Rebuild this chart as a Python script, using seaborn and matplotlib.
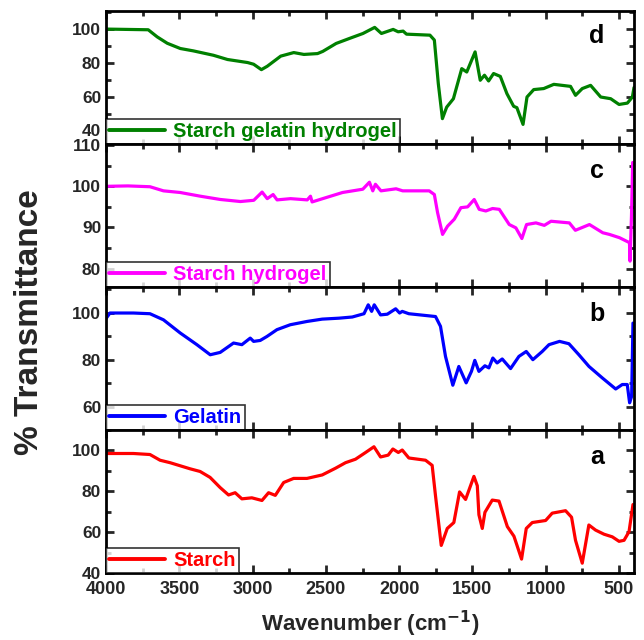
import numpy as np
import pandas as pd
import matplotlib
matplotlib.use("Agg")
import matplotlib.pyplot as plt
import seaborn as sns
from matplotlib.ticker import MultipleLocator

sns.set_style("ticks")
plt.rcParams['font.family'] = ['Liberation Sans', 'DejaVu Sans']
plt.rcParams['font.weight'] = 'bold'

# ---------------- data ----------------
d_wn = [4000, 3712, 3651, 3582, 3493, 3404, 3267, 3171, 3034, 2993, 2940, 2900, 2808, 2719, 2650,
        2557, 2521, 2430, 2338, 2247, 2167, 2121, 2041, 2007, 1973, 1950, 1790, 1760, 1733, 1705,
        1676, 1630, 1608, 1573, 1539, 1482, 1447, 1418, 1390, 1356, 1310, 1265, 1219, 1197, 1155,
        1128, 1082, 1014, 945, 831, 797, 751, 694, 625, 557, 500, 443, 409, 398]
d_T = [100, 99.6, 95.4, 91.6, 88.5, 87.1, 84.5, 82.0, 80.2, 79.2, 76.0, 78.0, 84.0, 86.1, 85.0,
       85.5, 86.8, 91.5, 94.5, 97.4, 101.0, 97.4, 99.8, 98.4, 98.8, 97.0, 96.4, 93.5, 67.7, 47.0,
       53.8, 58.8, 65.7, 76.6, 74.6, 86.5, 69.7, 72.7, 69.3, 73.7, 72.0, 61.8, 54.3, 53.5, 43.6,
       59.8, 64.2, 64.8, 67.3, 66.1, 60.8, 64.8, 66.7, 59.8, 58.8, 55.4, 56.2, 59.8, 65.4]

c_wn = [4000, 3850, 3700, 3608, 3494, 3357, 3220, 3083, 2992, 2935, 2900, 2860, 2833, 2741, 2627,
        2605, 2594, 2522, 2386, 2248, 2203, 2180, 2162, 2124, 2021, 1976, 1795, 1760, 1738, 1704,
        1670, 1624, 1579, 1533, 1488, 1454, 1409, 1363, 1317, 1249, 1204, 1163, 1131, 1067, 1010,
        964, 839, 798, 702, 611, 566, 497, 452, 429, 425, 415, 407]
c_T = [100, 100.1, 99.9, 98.9, 98.5, 97.6, 96.8, 96.3, 96.6, 98.6, 97.0, 98.0, 96.7, 97.0, 96.7,
       97.6, 96.2, 97.0, 98.5, 99.3, 101.0, 98.9, 100.5, 98.9, 99.4, 98.9, 98.9, 98.0, 93.6, 88.3,
       90.3, 92.0, 94.8, 95.0, 96.8, 94.4, 94.0, 94.6, 94.4, 90.7, 89.9, 87.3, 90.7, 91.1, 90.5,
       91.5, 91.1, 89.3, 90.7, 88.7, 88.3, 87.5, 86.7, 86.3, 81.8, 93.0, 105.8]

b_wn = [4000, 3973, 3813, 3700, 3608, 3494, 3380, 3289, 3221, 3130, 3073, 3016, 2993, 2948, 2902,
        2834, 2743, 2629, 2525, 2411, 2320, 2240, 2211, 2188, 2170, 2127, 2081, 2024, 1997, 1979,
        1934, 1752, 1718, 1684, 1634, 1593, 1543, 1507, 1484, 1456, 1415, 1388, 1361, 1332, 1297,
        1240, 1183, 1133, 1088, 1024, 978, 906, 842, 774, 705, 614, 523, 478, 444, 428, 414, 405]
b_T = [97.5, 99.9, 99.9, 99.6, 97.0, 91.4, 86.4, 82.1, 83.1, 87.1, 86.4, 89.2, 87.8, 88.2, 89.9,
       92.8, 94.9, 96.3, 97.3, 97.7, 98.2, 99.6, 103.4, 100.6, 103.4, 99.1, 99.4, 101.7, 99.9, 100.6,
       99.6, 98.4, 94.2, 81.4, 69.1, 77.1, 70.1, 75.0, 79.7, 75.0, 77.4, 76.5, 80.7, 78.6, 80.3,
       76.2, 81.4, 83.5, 80.0, 83.5, 86.4, 87.8, 86.8, 82.1, 77.1, 72.2, 67.5, 69.4, 69.4, 61.6, 64.4, 95.6]

a_wn = [4000, 3813, 3700, 3631, 3563, 3426, 3358, 3290, 3221, 3164, 3119, 3073, 3005, 2936, 2891,
        2845, 2788, 2720, 2629, 2525, 2434, 2366, 2298, 2229, 2172, 2127, 2075, 2043, 2006, 1979,
        1934, 1820, 1775, 1752, 1713, 1672, 1627, 1588, 1547, 1490, 1467, 1456, 1433, 1415, 1365,
        1319, 1262, 1217, 1165, 1133, 1092, 1001, 956, 865, 824, 797, 751, 706, 660, 603, 546,
        500, 466, 432, 405]
a_T = [98.5, 98.5, 98.0, 95.2, 94.0, 91.0, 89.7, 86.8, 81.8, 78.2, 79.3, 76.3, 76.8, 75.5, 79.3,
       78.0, 84.3, 86.3, 86.3, 88.0, 91.3, 94.0, 95.7, 99.0, 101.8, 96.8, 97.7, 100.7, 99.0, 100.2,
       96.3, 95.2, 92.7, 77.7, 53.5, 61.8, 64.7, 79.7, 76.0, 87.3, 82.7, 68.5, 61.8, 69.7, 75.7,
       75.2, 62.7, 58.0, 46.8, 61.8, 64.7, 65.7, 69.3, 70.5, 67.3, 56.0, 44.8, 63.5, 61.0, 59.0,
       57.7, 55.5, 56.0, 60.2, 73.5]

labels = ["Starch gelatin hydrogel", "Starch hydrogel", "Gelatin", "Starch"]
letters = ["d", "c", "b", "a"]
colors = ["#008000", "#FF00FF", "#0000FF", "#FF0000"]
ylims = [(32, 110.7), (75.5, 110.3), (50, 111), (40, 110)]
ymajor = [20, 10, 20, 20]
yticks = [[40, 60, 80, 100], [80, 90, 100, 110], [60, 80, 100], [40, 60, 80, 100]]
xticks = [4000, 3500, 3000, 2500, 2000, 1500, 1000, 500]

series = [(d_wn, d_T), (c_wn, c_T), (b_wn, b_T), (a_wn, a_T)]

# ---------------- figure ----------------
fig = plt.figure(figsize=(6.44, 6.40), dpi=100)
gs = fig.add_gridspec(4, 1, left=106/644, right=634/644, top=1-11/640, bottom=1-573/640,
                      hspace=0, height_ratios=[133, 143, 143, 143])
axes = [fig.add_subplot(gs[i]) for i in range(4)]

for i, ax in enumerate(axes):
    wn, T = series[i]
    df = pd.DataFrame({"wn": wn, "T": T})
    sns.lineplot(data=df, x="wn", y="T", ax=ax, color=colors[i], lw=2.3,
                 estimator=None, sort=False, label=labels[i])
    ax.set_xlim(4000, 398)
    ax.set_ylim(*ylims[i])
    ax.set_xticks(xticks)
    ax.xaxis.set_minor_locator(MultipleLocator(250))
    ax.set_yticks(yticks[i])
    ax.yaxis.set_minor_locator(MultipleLocator(ymajor[i] / 2))
    ax.tick_params(which="both", direction="in", top=True, right=True, width=2)
    ax.tick_params(which="major", length=6, labelsize=12.5)
    ax.tick_params(which="minor", length=3.5)
    for lab in ax.get_yticklabels():
        lab.set_fontweight("bold")
    ax.set_xlabel("")
    ax.set_ylabel("")
    for sp in ax.spines.values():
        sp.set_linewidth(2.0)
        sp.set_color("black")
    if i < 3:
        ax.tick_params(labelbottom=False)
    else:
        for lab in ax.get_xticklabels():
            lab.set_fontweight("bold")
        ax.tick_params(axis="x", pad=6, labelsize=13)
    ax.text(0.93, 0.81, letters[i], transform=ax.transAxes, ha="center", va="center",
            fontsize=18, fontweight="bold", color="black")
    leg = ax.legend(loc="lower left", borderaxespad=0, frameon=True, fancybox=False,
                    handlelength=2.8, handletextpad=0.4, borderpad=0.15,
                    prop={"size": 14.5, "weight": "bold"})
    leg.get_frame().set_edgecolor("black")
    leg.get_frame().set_linewidth(1.2)
    for t in leg.get_texts():
        t.set_color(colors[i])
    for h in leg.get_lines():
        h.set_linewidth(2.8)

fig.text(370/644, 1-624/640, "Wavenumber (cm$\\mathbf{^{-1}}$)", ha="center", va="center",
         fontsize=16, fontweight="bold")
fig.text(30/644, 1-322/640, "% Transmittance", ha="center", va="center", rotation=90,
         fontsize=24, fontweight="bold")

fig.savefig("out.png", dpi=100)
